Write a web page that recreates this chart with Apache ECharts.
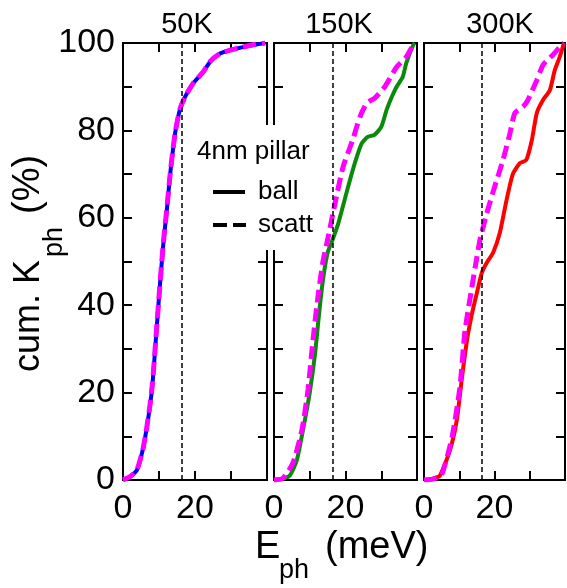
<!DOCTYPE html>
<html lang="en">

<head>
    <meta charset="UTF-8">
    <title>cumulative Kph</title>
    <script type="text/javascript" src="https://cdn.jsdelivr.net/npm/echarts@6/dist/echarts.min.js"></script>
    <style>
        body { margin: 0; background: #fff; }
    </style>
</head>

<body>
    <div id="main" style="width: 567px;height:588px;"></div>
    <script type="text/javascript">
    // panel titles and tick labels
    let panelTitles = ['50K', '150K', '300K'];
    let yTickLabels = [0, 20, 40, 60, 80, 100];
    let xTickLabels = [0, 20];
    let eCut = 16.4; // dashed reference line (meV)

    // 50K
    let e50Ball = [0, 2, 3.9, 5.6, 6.6, 7.5, 8.2, 9.2, 10.2, 11.2, 12.2, 13.1, 13.8, 14.6, 15.8, 17.2, 19.5, 22.3, 24.2, 27, 30, 33, 36, 39.5];
    let k50Ball = [0, 0.8, 2.3, 7.3, 12, 17, 22, 33, 44, 54, 62, 70, 75, 80, 84.7, 87.6, 90.8, 93.4, 95.7, 97.6, 98.4, 99, 99.5, 100];
    let e50Scatt = [0, 2, 3.9, 5.6, 6.6, 7.5, 8.2, 9.2, 10.2, 11.2, 12.2, 13.1, 13.8, 14.6, 15.8, 17.2, 19.5, 22.3, 24.2, 27, 30, 33, 36, 39.5];
    let k50Scatt = [0, 0.8, 2.4, 7.3, 12, 17.2, 22.3, 33.2, 44, 54.2, 62.3, 70, 75.2, 80, 84.8, 87.6, 90.8, 93.4, 95.8, 97.6, 98.4, 99, 99.6, 100];

    // 150K
    let e150Ball = [0, 2.5, 4.5, 6.4, 8.1, 10, 11.5, 12.6, 13.7, 15, 16.4, 17.9, 20.7, 22.6, 24.5, 26.2, 28.1, 30, 31.5, 32.9, 34.3, 36, 37, 38.9, 39.4];
    let k150Ball = [0, 0.3, 1.1, 4.6, 11.4, 20, 29, 38, 45.8, 52, 55, 58.5, 67, 72.5, 77, 78.5, 79, 80.8, 84.7, 87.6, 90, 92.2, 95.4, 99.5, 100];
    let e150Scatt = [0, 2.5, 5.3, 7.8, 9.5, 10.9, 12.3, 13.7, 15, 17, 19.3, 22, 24, 26, 28.2, 31, 34.3, 37, 38.9, 39.4];
    let k150Scatt = [0, 0.4, 3.9, 11.4, 20.6, 32, 42, 50, 55, 63, 71.6, 77.8, 83, 86.3, 87.4, 90, 94.5, 96.8, 99.5, 100];

    // 300K
    let e300Ball = [0, 2.5, 4.5, 7.4, 9.3, 10.8, 12.2, 13.6, 15, 16.4, 17.8, 19.6, 21.5, 23.4, 25.2, 27.2, 29, 30.6, 32, 33.8, 35.7, 37.1, 38.5, 39.7];
    let k300Ball = [0, 0.3, 1, 6.9, 13.7, 23.6, 32, 38, 42.8, 47.4, 49.7, 52, 56.5, 64, 70, 72.5, 73.2, 77.8, 84, 87, 89.2, 93.8, 96.8, 100];
    let e300Scatt = [0, 2.5, 5, 8, 10.2, 11.6, 13.6, 15, 15.9, 17.8, 20, 22.4, 24.4, 25.8, 28.1, 29.5, 32, 33.8, 36.6, 39, 39.7];
    let k300Scatt = [0, 0.2, 1.2, 10, 21.3, 34, 44.2, 51, 55, 61, 67, 73.2, 79.4, 84, 85.4, 87, 91.5, 95, 97.3, 99.5, 100];

    let ballSets = [[e50Ball, k50Ball], [e150Ball, k150Ball], [e300Ball, k300Ball]];
    let scattSets = [[e50Scatt, k50Scatt], [e150Scatt, k150Scatt], [e300Scatt, k300Scatt]];
    let ballColors = ['#0000ff', '#0a8a0a', '#ff0000'];
    let scattColor = '#ff00ff';

    let font = '"Liberation Sans", Arial, sans-serif';

    function zip(xs, ys) {
        return xs.map((x, i) => [x, ys[i]]);
    }

    let grids = [
        { left: 123, top: 43, width: 144, height: 437 },
        { left: 274, top: 43, width: 143, height: 437 },
        { left: 424, top: 43, width: 141, height: 437 }
    ];

    let tickStyle = { show: true, inside: true, length: 9, lineStyle: { color: '#000', width: 2 } };
    let lineStyle = { show: true, onZero: false, lineStyle: { color: '#000', width: 2 } };

    let xAxes = [], yAxes = [], series = [];
    grids.forEach((g, i) => {
        g.show = true;
        g.borderColor = '#000';
        g.borderWidth = 2;
        xAxes.push({
            type: 'value', gridIndex: i, position: 'bottom', min: 0, max: 40, interval: 10,
            axisLine: lineStyle, axisTick: tickStyle, splitLine: { show: false },
            axisLabel: {
                margin: 12, color: '#000', fontSize: 34, fontFamily: font,
                showMaxLabel: false,
                formatter: v => xTickLabels.includes(v) ? String(v) : ''
            }
        });
        xAxes.push({
            type: 'value', gridIndex: i, position: 'top', min: 0, max: 40, interval: 10,
            axisLine: lineStyle, axisTick: tickStyle, splitLine: { show: false },
            axisLabel: { show: false }
        });
        yAxes.push({
            type: 'value', gridIndex: i, position: 'left', min: 0, max: 100, interval: 10,
            axisLine: lineStyle, axisTick: tickStyle, splitLine: { show: false },
            axisLabel: {
                show: i === 0, margin: 8, color: '#000', fontSize: 34, fontFamily: font,
                formatter: v => yTickLabels.includes(v) ? String(v) : ''
            }
        });
        yAxes.push({
            type: 'value', gridIndex: i, position: 'right', min: 0, max: 100, interval: 10,
            axisLine: lineStyle, axisTick: tickStyle, splitLine: { show: false },
            axisLabel: { show: false }
        });

        series.push({
            name: 'ball', type: 'line', xAxisIndex: 2 * i, yAxisIndex: 2 * i,
            data: zip(ballSets[i][0], ballSets[i][1]),
            showSymbol: false, smooth: 0.2, z: 3,
            lineStyle: { color: ballColors[i], width: 4 },
            markLine: {
                silent: true, symbol: 'none', label: { show: false },
                lineStyle: { color: '#000', type: [5, 3], width: 1.5 },
                data: [{ xAxis: eCut }]
            }
        });
        series.push({
            name: 'scatt', type: 'line', xAxisIndex: 2 * i, yAxisIndex: 2 * i,
            data: zip(scattSets[i][0], scattSets[i][1]),
            showSymbol: false, smooth: 0.2, z: 4,
            lineStyle: { color: scattColor, width: 5, type: [13, 6] }
        });
    });

    function txt(text, x, y, size, align) {
        return {
            type: 'text', z: 100,
            style: {
                text: text, x: x, y: y, font: size + 'px ' + font, fill: '#000',
                textAlign: align || 'left', textVerticalAlign: 'middle'
            }
        };
    }

    let graphic = [];
    // panel titles
    let titleX = [187, 339, 500];
    panelTitles.forEach((t, i) => graphic.push(txt(t, titleX[i], 25, 29, 'center')));

    // x axis name
    graphic.push(txt('E', 255, 548, 38));
    graphic.push(txt('ph', 279, 571, 27));
    graphic.push(txt('(meV)', 325, 548, 38));

    // y axis name (rotated)
    graphic.push({
        type: 'group', x: 42, y: 372, rotation: Math.PI / 2, z: 100,
        children: [
            txt('cum. K', 0, -13, 36),
            txt('ph', 115, 13, 27),
            txt('(%)', 158, -13, 38)
        ]
    });

    // legend box
    graphic.push({
        type: 'rect', z: 90,
        shape: { x: 190, y: 125, width: 132, height: 125 },
        style: { fill: '#fff' }
    });
    graphic.push(txt('4nm pillar', 197, 152, 26));
    graphic.push(txt('ball', 258, 192, 26));
    graphic.push(txt('scatt', 258, 225, 26));
    graphic.push({
        type: 'line', z: 100,
        shape: { x1: 213, y1: 192, x2: 245, y2: 192 },
        style: { stroke: '#000', lineWidth: 4 }
    });
    graphic.push({
        type: 'line', z: 100,
        shape: { x1: 213, y1: 225, x2: 227, y2: 225 },
        style: { stroke: '#000', lineWidth: 4 }
    });
    graphic.push({
        type: 'line', z: 100,
        shape: { x1: 233, y1: 225, x2: 246, y2: 225 },
        style: { stroke: '#000', lineWidth: 4 }
    });

    let myChart = echarts.init(document.getElementById('main'));
    myChart.setOption({
        animation: false,
        backgroundColor: '#fff',
        grid: grids,
        xAxis: xAxes,
        yAxis: yAxes,
        series: series,
        graphic: graphic
    });
    </script>
</body>

</html>
